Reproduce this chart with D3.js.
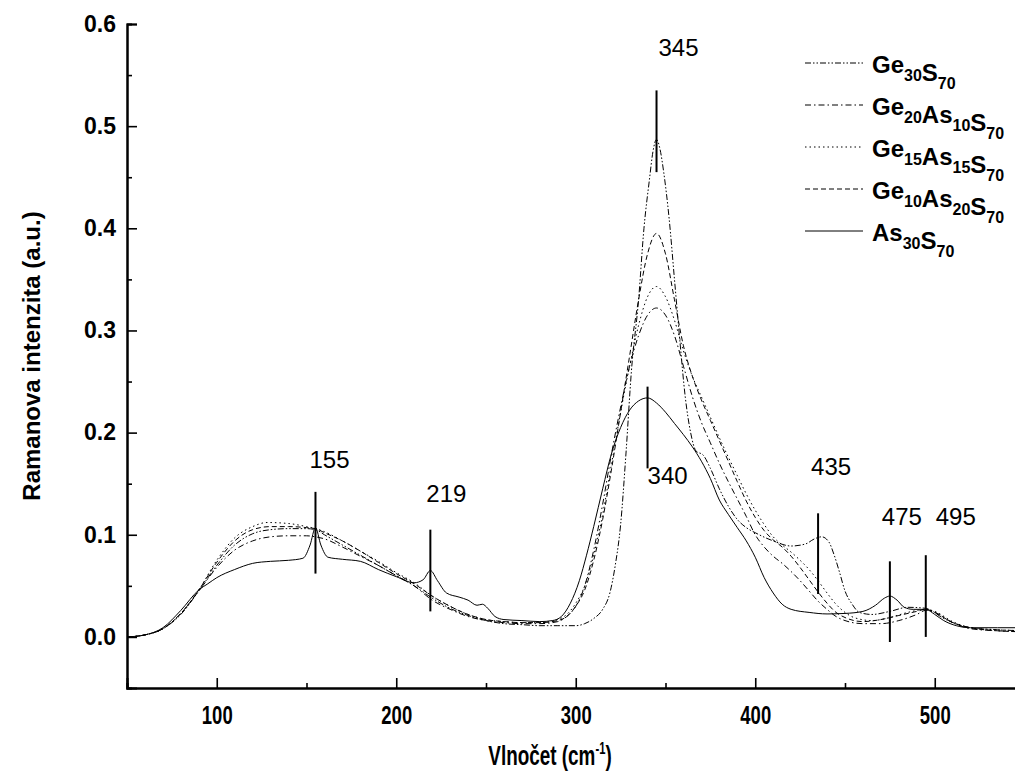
<!DOCTYPE html>
<html>
<head>
<meta charset="utf-8">
<script src="https://cdn.jsdelivr.net/npm/d3@7"></script>
<style>
  html, body { margin: 0; padding: 0; background: #fff; }
  svg { display: block; }
</style>
</head>
<body>
<svg id="chart" width="1015" height="783"></svg>
<script>
// Raman spectra of Ge-As-S glasses: wavenumber (cm-1) and intensity (a.u.)
const seriesNames = ["Ge30S70", "Ge20As10S70", "Ge15As15S70", "Ge10As20S70", "As30S70"];

const ge30S70 = [
  [50,0.0],[60,0.002],[70,0.008],[80,0.022],[90,0.045],[100,0.07],[110,0.09],[120,0.101],
  [130,0.105],[140,0.106],[150,0.106],[155,0.105],[160,0.1],[170,0.09],[180,0.08],[190,0.07],
  [200,0.06],[210,0.05],[220,0.038],[230,0.028],[240,0.021],[250,0.016],[260,0.013],[270,0.012],
  [280,0.011],[290,0.011],[300,0.011],[305,0.013],[310,0.018],[315,0.027],[319,0.043],[322,0.07],
  [325,0.11],[328,0.18],[331,0.26],[335,0.33],[338,0.4],[341,0.447],[343,0.475],[345,0.487],
  [347,0.477],[349,0.455],[352,0.41],[355,0.35],[358,0.29],[361,0.235],[364,0.2],[367,0.182],
  [371,0.178],[375,0.165],[380,0.145],[385,0.128],[390,0.115],[395,0.107],[400,0.102],[410,0.094],
  [420,0.089],[428,0.091],[433,0.096],[437,0.098],[441,0.093],[444,0.08],[447,0.063],[450,0.045],
  [454,0.032],[458,0.024],[465,0.022],[475,0.025],[485,0.029],[495,0.028],[505,0.018],[520,0.009],
  [535,0.007],[550,0.006]
];

const ge20As10S70 = [
  [50,0.0],[60,0.002],[70,0.008],[80,0.023],[90,0.045],[100,0.068],[110,0.085],[120,0.094],
  [130,0.098],[140,0.099],[150,0.099],[155,0.098],[160,0.096],[170,0.088],[180,0.079],[190,0.07],
  [200,0.06],[210,0.05],[220,0.036],[230,0.027],[240,0.02],[250,0.016],[260,0.014],[270,0.013],
  [280,0.013],[290,0.015],[295,0.02],[300,0.03],[305,0.05],[310,0.085],[315,0.13],[320,0.18],
  [325,0.225],[330,0.265],[335,0.295],[340,0.315],[345,0.322],[350,0.315],[355,0.295],[360,0.265],
  [365,0.235],[370,0.21],[375,0.19],[380,0.17],[385,0.152],[390,0.135],[395,0.118],[400,0.1],
  [405,0.088],[410,0.079],[415,0.072],[420,0.064],[425,0.055],[430,0.045],[435,0.035],[440,0.027],
  [445,0.02],[450,0.016],[460,0.013],[470,0.013],[480,0.016],[490,0.022],[495,0.026],[500,0.024],
  [510,0.014],[520,0.008],[535,0.006],[550,0.005]
];

const ge15As15S70 = [
  [50,0.0],[60,0.002],[70,0.008],[80,0.023],[90,0.046],[100,0.075],[110,0.097],[120,0.108],
  [128,0.112],[140,0.111],[150,0.108],[155,0.106],[160,0.103],[170,0.094],[180,0.084],[190,0.074],
  [200,0.063],[210,0.053],[220,0.04],[230,0.03],[240,0.022],[250,0.017],[260,0.015],[270,0.014],
  [280,0.014],[290,0.017],[295,0.022],[300,0.033],[305,0.05],[310,0.08],[315,0.12],[320,0.17],
  [325,0.22],[330,0.265],[335,0.305],[340,0.333],[345,0.343],[350,0.333],[355,0.31],[360,0.28],
  [365,0.255],[370,0.235],[375,0.215],[380,0.195],[385,0.176],[390,0.158],[395,0.14],[400,0.124],
  [405,0.11],[410,0.098],[415,0.09],[420,0.083],[425,0.075],[430,0.066],[435,0.055],[440,0.043],
  [445,0.032],[450,0.024],[455,0.019],[465,0.016],[475,0.019],[485,0.024],[495,0.027],[500,0.025],
  [510,0.015],[520,0.009],[535,0.007],[550,0.006]
];

const ge10As20S70 = [
  [50,0.0],[60,0.002],[70,0.008],[80,0.023],[90,0.046],[100,0.073],[110,0.094],[120,0.105],
  [130,0.108],[140,0.108],[150,0.107],[155,0.106],[160,0.102],[170,0.094],[180,0.084],[190,0.073],
  [200,0.062],[210,0.052],[220,0.04],[230,0.03],[240,0.022],[250,0.017],[260,0.015],[270,0.014],
  [280,0.014],[290,0.016],[295,0.02],[300,0.03],[305,0.046],[310,0.075],[315,0.115],[320,0.165],
  [325,0.22],[330,0.275],[335,0.33],[340,0.375],[345,0.395],[350,0.375],[355,0.33],[360,0.285],
  [365,0.255],[370,0.232],[375,0.212],[380,0.192],[385,0.172],[390,0.152],[395,0.133],[400,0.117],
  [405,0.104],[410,0.095],[415,0.088],[420,0.079],[425,0.068],[430,0.056],[435,0.044],[440,0.033],
  [445,0.024],[450,0.019],[460,0.015],[470,0.017],[480,0.021],[490,0.025],[495,0.027],[500,0.024],
  [510,0.014],[520,0.009],[535,0.006],[550,0.005]
];

const as30S70 = [
  [50,0.0],[60,0.002],[70,0.009],[80,0.026],[90,0.046],[95,0.052],[100,0.058],[110,0.066],
  [120,0.072],[130,0.074],[140,0.075],[148,0.077],[152,0.09],[155,0.107],[158,0.09],[162,0.078],
  [170,0.076],[180,0.074],[190,0.066],[200,0.059],[210,0.053],[215,0.056],[219,0.065],[223,0.055],
  [228,0.043],[235,0.039],[240,0.036],[245,0.031],[248,0.032],[251,0.028],[255,0.02],[260,0.017],
  [270,0.016],[280,0.015],[287,0.016],[292,0.02],[297,0.033],[302,0.055],[306,0.08],[310,0.108],
  [315,0.145],[320,0.18],[325,0.205],[330,0.222],[335,0.231],[340,0.234],[345,0.229],[350,0.22],
  [355,0.209],[360,0.198],[365,0.186],[370,0.172],[375,0.155],[380,0.134],[385,0.12],[390,0.107],
  [395,0.094],[400,0.078],[405,0.058],[410,0.043],[415,0.032],[420,0.027],[430,0.024],[440,0.0225],
  [450,0.023],[460,0.025],[467,0.031],[472,0.038],[475,0.04],[479,0.036],[483,0.029],[488,0.027],
  [495,0.027],[500,0.022],[505,0.016],[512,0.011],[520,0.009],[535,0.009],[550,0.009]
];

// Legend labels: [element, subscript] pairs
const legendParts = [
  [["Ge","30"],["S","70"]],
  [["Ge","20"],["As","10"],["S","70"]],
  [["Ge","15"],["As","15"],["S","70"]],
  [["Ge","10"],["As","20"],["S","70"]],
  [["As","30"],["S","70"]]
];

// Annotated band positions and the intensity span of each marker line
const peakPositions = [155, 219, 345, 340, 435, 475, 495];
const peakLineTop    = [0.142, 0.105, 0.535, 0.245, 0.121, 0.074, 0.080];
const peakLineBottom = [0.062, 0.025, 0.455, 0.165, 0.042, -0.005, 0.0];

const xMajorTicks = [100, 200, 300, 400, 500];
const xMinorTicks = [50, 150, 250, 350, 450, 550];
const yMajorTicks = [0.0, 0.1, 0.2, 0.3, 0.4, 0.5, 0.6];
const yMinorTicks = [0.05, 0.15, 0.25, 0.35, 0.45, 0.55];

const svg = d3.select("#chart");

const x = d3.scaleLinear().domain([50, 550]).range([127, 1024.5]);
const y = d3.scaleLinear().domain([-0.05, 0.6]).range([688, 24]);

const dashes = ["6,2,1.5,2,1.5,2", "6,3,1.5,3", "1.5,3", "5,3", null];
const seriesData = [ge30S70, ge20As10S70, ge15As15S70, ge10As20S70, as30S70];

// Spectra
const line = d3.line().x(d => x(d[0])).y(d => y(d[1])).curve(d3.curveMonotoneX);
svg.append("g").selectAll("path")
  .data(seriesData)
  .join("path")
  .attr("d", line)
  .attr("fill", "none")
  .attr("stroke", "#000")
  .attr("stroke-width", 1)
  .attr("stroke-dasharray", (d, i) => dashes[i]);

// Axes: ticks point into the plot
const axisFont = "'Liberation Sans', Arial, sans-serif";
const narrowX = 0.74;   // horizontal squeeze for the condensed bottom-axis lettering

const yMinor = svg.append("g").attr("transform", `translate(${x(50)},0)`)
  .call(d3.axisLeft(y).tickValues(yMinorTicks).tickSize(-5).tickFormat(""));
const yMajor = svg.append("g").attr("transform", `translate(${x(50)},0)`)
  .call(d3.axisLeft(y).tickValues(yMajorTicks).tickSize(-10).tickPadding(11)
        .tickFormat(d3.format(".1f")));
const xMinor = svg.append("g").attr("transform", `translate(0,${y(-0.05)})`)
  .call(d3.axisBottom(x).tickValues(xMinorTicks).tickSize(-5).tickFormat(""));
const xMajor = svg.append("g").attr("transform", `translate(0,${y(-0.05)})`)
  .call(d3.axisBottom(x).tickValues(xMajorTicks).tickSize(-10).tickPadding(18));

[yMinor, yMajor, xMinor, xMajor].forEach(g => {
  g.select(".domain").attr("stroke", "#000").attr("stroke-width", 2);
  g.selectAll(".tick line").attr("stroke", "#000").attr("stroke-width", 1.6);
});
yMajor.selectAll(".tick text")
  .attr("font-family", axisFont).attr("font-weight", "bold").attr("font-size", 23)
  .attr("fill", "#000");
xMajor.selectAll(".tick text")
  .attr("font-family", axisFont).attr("font-weight", "bold").attr("font-size", 25)
  .attr("transform", `scale(${narrowX},1)`)
  .attr("fill", "#000");

// Axis titles
svg.append("text")
  .attr("transform", `translate(40,${(y(0.6) + y(-0.05)) / 2}) rotate(-90)`)
  .attr("text-anchor", "middle")
  .attr("font-family", axisFont).attr("font-weight", "bold").attr("font-size", 24)
  .text("Ramanova intenzita (a.u.)");

const xt = svg.append("g")
  .attr("transform", `translate(550,765) scale(0.7,1)`)
  .append("text")
  .attr("text-anchor", "middle")
  .attr("font-family", axisFont).attr("font-weight", "bold").attr("font-size", 27);
xt.append("tspan").text("Vlnočet (cm");
xt.append("tspan").attr("dy", -11).attr("font-size", 16).text("-1");
xt.append("tspan").attr("dy", 11).text(")");

// Band markers
const peaks = peakPositions.map((p, i) => ({ p, top: peakLineTop[i], bottom: peakLineBottom[i] }));
svg.append("g").selectAll("line")
  .data(peaks)
  .join("line")
  .attr("x1", d => x(d.p)).attr("x2", d => x(d.p))
  .attr("y1", d => y(d.top)).attr("y2", d => y(d.bottom))
  .attr("stroke", "#000").attr("stroke-width", 2);

// Band labels, placed relative to their marker lines
const labelOffsets = {
  155: [14, -24], 219: [16, -28], 345: [22, -34], 340: [0, 97], 435: [13, -38],
  475: [12, -36], 495: [30, -30]
};
svg.append("g").selectAll("text")
  .data(peaks)
  .join("text")
  .attr("x", d => x(d.p) + labelOffsets[d.p][0])
  .attr("y", d => y(d.top) + labelOffsets[d.p][1])
  .attr("text-anchor", d => d.p === 340 ? "start" : "middle")
  .attr("font-family", axisFont).attr("font-size", 24)
  .attr("fill", "#000")
  .text(d => d.p);

// Legend
const legend = svg.append("g");
const rowY = i => 63 + i * 42;
legendParts.forEach((parts, i) => {
  legend.append("line")
    .attr("x1", 805).attr("x2", 863)
    .attr("y1", rowY(i)).attr("y2", rowY(i))
    .attr("stroke", "#000").attr("stroke-width", 1)
    .attr("stroke-dasharray", dashes[i]);
  const t = legend.append("text")
    .attr("x", 872).attr("y", rowY(i) + 10)
    .attr("font-family", axisFont).attr("font-weight", "bold").attr("font-size", 24);
  parts.forEach(([el, sub]) => {
    t.append("tspan").text(el);
    t.append("tspan").attr("dy", 8).attr("font-size", 16).text(sub);
    t.append("tspan").attr("dy", -8).text("");
  });
});
</script>
</body>
</html>
